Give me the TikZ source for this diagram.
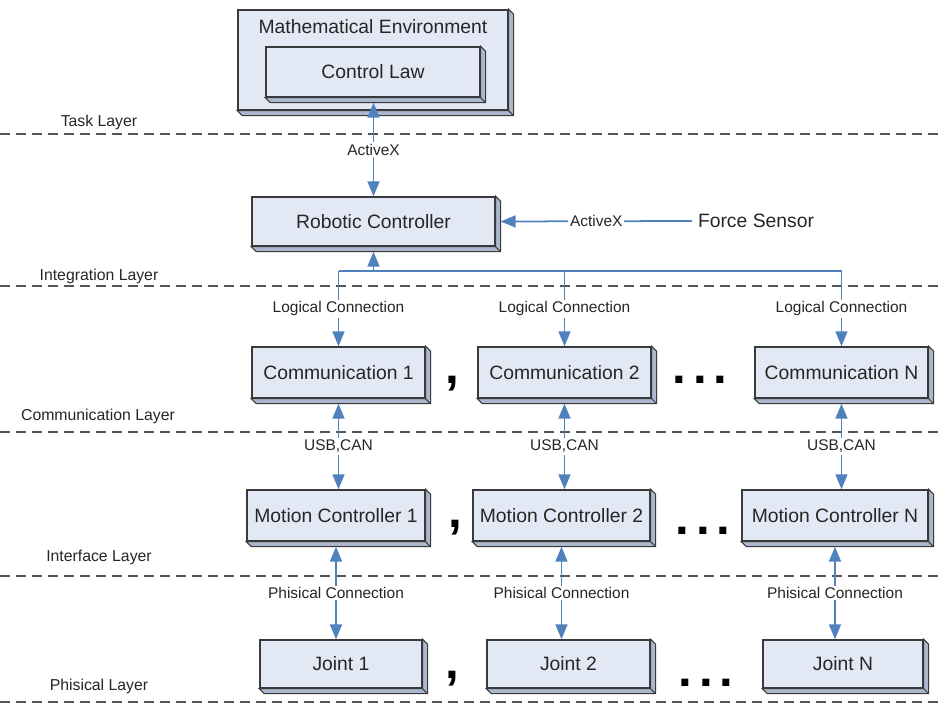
\documentclass[tikz,border=0pt]{standalone}
\usepackage{fontspec}
\setmainfont{Liberation Sans}
\usepackage{xcolor}
\usepackage{tikz}
\usetikzlibrary{arrows.meta}
\definecolor{facecolor}{HTML}{E3E9F4}
\definecolor{depthcolor}{HTML}{ABB7CD}
\definecolor{edgecolor}{HTML}{3A3A3A}
\definecolor{linkcolor}{HTML}{4F81BD}
\definecolor{layercolor}{HTML}{555555}
\definecolor{textcolor}{HTML}{262626}

\tikzset{
  blockbox/.style={draw=edgecolor, line width=0.8pt, fill=facecolor, rectangle, inner sep=0pt, text=textcolor, font=\fontsize{11pt}{13pt}\selectfont},
  plaintext/.style={text=textcolor, font=\fontsize{11pt}{13pt}\selectfont},
  linklabel/.style={fill=white, inner sep=1pt, text=textcolor, font=\fontsize{8.8pt}{10pt}\selectfont},
  layerlabel/.style={text=textcolor, font=\fontsize{9pt}{11pt}\selectfont},
  layerline/.style={draw=layercolor, line width=1pt, dash pattern=on 0.2cm off 0.12cm},
  linkarrow/.style={draw=linkcolor, line width=1pt, -{Triangle[length=0.3cm,width=0.24cm]}},
  twowayarrow/.style={draw=linkcolor, line width=1pt, {Triangle[length=0.3cm,width=0.24cm]}-{Triangle[length=0.3cm,width=0.24cm]}},
  sepmark/.style={text=black, font=\fontsize{28pt}{28pt}\selectfont\bfseries},
}

\begin{document}
\begin{tikzpicture}[x=0.02cm, y=-0.02cm]%
\useasboundingbox (0,0) rectangle (938,705);%
% layers
\node[layerlabel] (tasklayer) at (99,122) {Task Layer};%
\node[layerlabel] (integlayer) at (99,276) {Integration Layer};%
\node[layerlabel] (commlayer) at (98,416) {Communication Layer};%
\node[layerlabel] (interlayer) at (99,557) {Interface Layer};%
\node[layerlabel] (physlayer) at (99,686) {Phisical Layer};%
\draw[layerline] (0,134) -- (938,134);%
\draw[layerline] (0,286) -- (938,286);%
\draw[layerline] (0,432) -- (938,432);%
\draw[layerline] (0,576) -- (938,576);%
\draw[layerline] (0,702) -- (938,702);%
% blocks
\node[blockbox, minimum width=5.4cm, minimum height=2.0cm] (mathenv) at (373,60) {};%
\node[plaintext] (mathtitle) at (373,27) {Mathematical Environment};%
\node[blockbox, minimum width=4.28cm, minimum height=1.0cm] (ctrllaw) at (373,72) {Control Law};%
\node[blockbox, minimum width=4.86cm, minimum height=0.98cm] (robot) at (373.5,221.5) {Robotic Controller};%
\node[plaintext] (force) at (756,221) {Force Sensor};%
\node[blockbox, minimum width=3.46cm, minimum height=1.02cm] (comm1) at (338.5,372.5) {Communication 1};%
\node[blockbox, minimum width=3.46cm, minimum height=1.02cm] (comm2) at (564.5,372.5) {Communication 2};%
\node[blockbox, minimum width=3.46cm, minimum height=1.02cm] (commN) at (841.5,372.5) {Communication N};%
\node[blockbox, minimum width=3.56cm, minimum height=1.02cm] (mot1) at (336,515.5) {Motion Controller 1};%
\node[blockbox, minimum width=3.54cm, minimum height=1.02cm] (mot2) at (561.5,515.5) {Motion Controller 2};%
\node[blockbox, minimum width=3.72cm, minimum height=1.02cm] (motN) at (835,515.5) {Motion Controller N};%
\node[blockbox, minimum width=3.24cm, minimum height=0.96cm] (joint1) at (341,664) {Joint 1};%
\node[blockbox, minimum width=3.26cm, minimum height=0.96cm] (joint2) at (568.5,664) {Joint 2};%
\node[blockbox, minimum width=3.2cm, minimum height=0.96cm] (jointN) at (843,664) {Joint N};%
% 3d depth of the blocks
\foreach \n in {mathenv,ctrllaw,robot,comm1,comm2,commN,mot1,mot2,motN,joint1,joint2,jointN}
  \filldraw[fill=depthcolor, draw=edgecolor, line width=0.6pt] (\n.north east) -- ([shift={(5,5)}]\n.north east) -- ([shift={(5,5)}]\n.south east) -- ([shift={(5,5)}]\n.south west) -- (\n.south west) -- (\n.south east) -- cycle (\n.south east) -- ([shift={(5,5)}]\n.south east);%
% separators
\node[sepmark] (comma1) at (452,384) {,};%
\node[sepmark] (comma2) at (455,528) {,};%
\node[sepmark] (comma3) at (452,679) {,};%
\node[sepmark] (dots1) at (700,380) {.\hspace{4pt}.\hspace{4pt}.};%
\node[sepmark] (dots2) at (703,531) {.\hspace{4pt}.\hspace{4pt}.};%
\node[sepmark] (dots3) at (706,683) {.\hspace{4pt}.\hspace{4pt}.};%
% connections
\draw[twowayarrow] (robot.north) -- node[linklabel] (activex1) {ActiveX} ([shift={(0,5)}]robot.north |- ctrllaw.south);%
\draw[linkarrow] (force.west) -- node[linklabel] (activex2) {ActiveX} ([shift={(5,0)}]robot.east);%
\coordinate (busleft) at (338,271);%
\coordinate (busright) at (841,271);%
\draw[draw=linkcolor, line width=0.7pt] (comm1.north |- busleft) -- (commN.north |- busright);%
\draw[linkarrow] (robot.south |- busleft) -- ([shift={(0,5)}]robot.south);%
\draw[linkarrow] (comm1.north |- busleft) -- node[linklabel] (logic1) {Logical Connection} (comm1.north);%
\draw[linkarrow] (comm2.north |- busleft) -- node[linklabel] (logic2) {Logical Connection} (comm2.north);%
\draw[linkarrow] (commN.north |- busleft) -- node[linklabel] (logicN) {Logical Connection} (commN.north);%
\draw[twowayarrow] ([shift={(0,5)}]comm1.south) -- node[linklabel] (usb1) {USB,CAN} (comm1.south |- mot1.north);%
\draw[twowayarrow] ([shift={(0,5)}]comm2.south) -- node[linklabel] (usb2) {USB,CAN} (comm2.south |- mot2.north);%
\draw[twowayarrow] ([shift={(0,5)}]commN.south) -- node[linklabel] (usbN) {USB,CAN} (commN.south |- motN.north);%
\draw[twowayarrow] ([shift={(0,5)}]mot1.south) -- node[linklabel] (phys1) {Phisical Connection} (mot1.south |- joint1.north);%
\draw[twowayarrow] ([shift={(0,5)}]mot2.south) -- node[linklabel] (phys2) {Phisical Connection} (mot2.south |- joint2.north);%
\draw[twowayarrow] ([shift={(0,5)}]motN.south) -- node[linklabel] (physN) {Phisical Connection} (motN.south |- jointN.north);%
\end{tikzpicture}
\end{document}
